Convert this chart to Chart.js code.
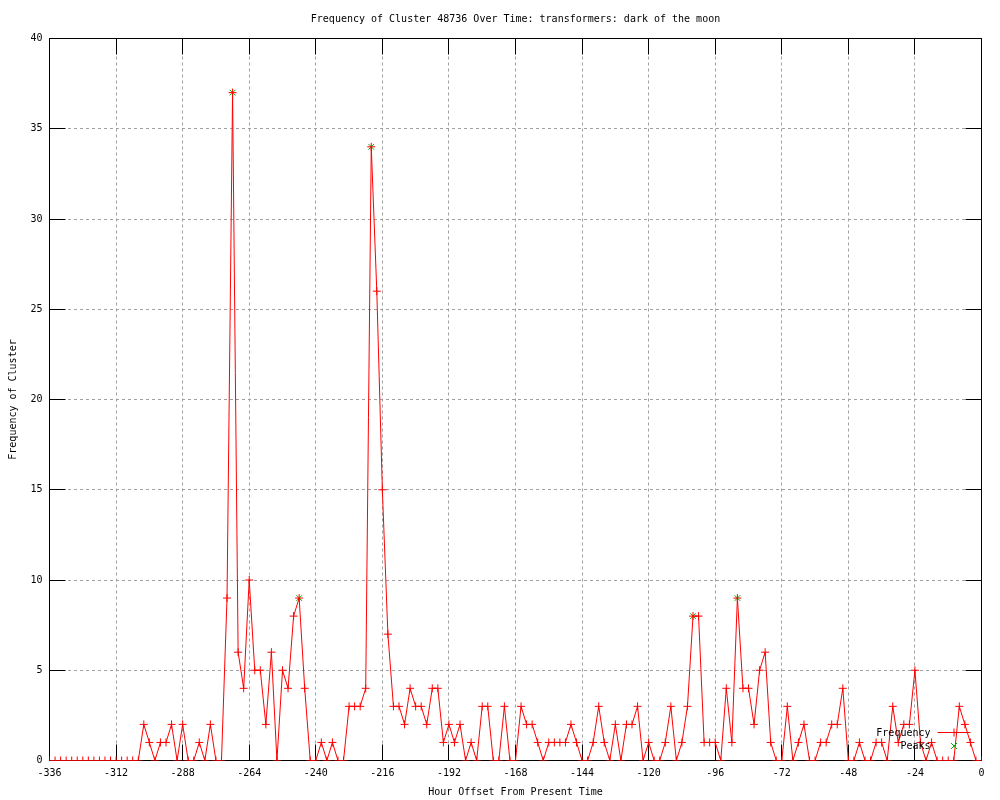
<!DOCTYPE html>
<html>
<head>
<meta charset="utf-8">
<title>Frequency of Cluster 48736 Over Time</title>
<script src="https://cdn.jsdelivr.net/npm/chart.js@4.4.0/dist/chart.umd.min.js"></script>
<style>
  html, body { margin: 0; padding: 0; background: #fff; }
</style>
</head>
<body>
<canvas id="cluster-frequency-chart" width="1000" height="800"></canvas>
<script>
// hour offsets, one point every 2 hours
const hours = [
  -336, -334, -332, -330, -328, -326, -324, -322, -320, -318, -316, -314,
  -312, -310, -308, -306, -304, -302, -300, -298, -296, -294, -292, -290,
  -288, -286, -284, -282, -280, -278, -276, -274, -272, -270, -268, -266,
  -264, -262, -260, -258, -256, -254, -252, -250, -248, -246, -244, -242,
  -240, -238, -236, -234, -232, -230, -228, -226, -224, -222, -220, -218,
  -216, -214, -212, -210, -208, -206, -204, -202, -200, -198, -196, -194,
  -192, -190, -188, -186, -184, -182, -180, -178, -176, -174, -172, -170,
  -168, -166, -164, -162, -160, -158, -156, -154, -152, -150, -148, -146,
  -144, -142, -140, -138, -136, -134, -132, -130, -128, -126, -124, -122,
  -120, -118, -116, -114, -112, -110, -108, -106, -104, -102, -100, -98,
  -96, -94, -92, -90, -88, -86, -84, -82, -80, -78, -76, -74,
  -72, -70, -68, -66, -64, -62, -60, -58, -56, -54, -52, -50,
  -48, -46, -44, -42, -40, -38, -36, -34, -32, -30, -28, -26,
  -24, -22, -20, -18, -16, -14, -12, -10, -8, -6, -4, -2,
  0
];
const frequency = [
  0, 0, 0, 0, 0, 0, 0, 0, 0, 0, 0, 0,
  0, 0, 0, 0, 0, 2, 1, 0, 1, 1, 2, 0,
  2, 0, 0, 1, 0, 2, 0, 0, 9, 37, 6, 4,
  10, 5, 5, 2, 6, 0, 5, 4, 8, 9, 4, 0,
  0, 1, 0, 1, 0, 0, 3, 3, 3, 4, 34, 26,
  15, 7, 3, 3, 2, 4, 3, 3, 2, 4, 4, 1,
  2, 1, 2, 0, 1, 0, 3, 3, 0, 0, 3, 0,
  0, 3, 2, 2, 1, 0, 1, 1, 1, 1, 2, 1,
  0, 0, 1, 3, 1, 0, 2, 0, 2, 2, 3, 0,
  1, 0, 0, 1, 3, 0, 1, 3, 8, 8, 1, 1,
  1, 0, 4, 1, 9, 4, 4, 2, 5, 6, 1, 0,
  0, 3, 0, 1, 2, 0, 0, 1, 1, 2, 2, 4,
  0, 0, 1, 0, 0, 1, 1, 0, 3, 1, 2, 2,
  5, 1, 0, 1, 0, 0, 0, 0, 3, 2, 1, 0,
  0
];
const peakHours = [-270, -246, -220, -104, -88];
const peakValues = [37, 9, 34, 8, 9];

const xTicks = [-336, -312, -288, -264, -240, -216, -192, -168, -144, -120, -96, -72, -48, -24, 0];
const yTicks = [0, 5, 10, 15, 20, 25, 30, 35, 40];

const FONT = { family: '"DejaVu Sans Mono", monospace', size: 10, weight: 'normal' };
const TICK_LEN = 16;

// gnuplot style: black frame, inward mirrored ticks, key in the lower right
const gnuplotFrame = {
  id: 'gnuplotFrame',
  beforeDatasetsDraw(chart) {
    const { ctx, chartArea: a, scales: { x, y } } = chart;
    ctx.save();
    ctx.strokeStyle = '#000';
    ctx.lineWidth = 1;
    ctx.beginPath();
    x.ticks.forEach(t => {
      const px = Math.floor(x.getPixelForValue(t.value)) + 0.5;
      ctx.moveTo(px, a.bottom); ctx.lineTo(px, a.bottom - TICK_LEN);
      ctx.moveTo(px, a.top); ctx.lineTo(px, a.top + TICK_LEN);
    });
    y.ticks.forEach(t => {
      const py = Math.floor(y.getPixelForValue(t.value)) + 0.5;
      ctx.moveTo(a.left, py); ctx.lineTo(a.left + TICK_LEN, py);
      ctx.moveTo(a.right, py); ctx.lineTo(a.right - TICK_LEN, py);
    });
    ctx.stroke();
    ctx.strokeRect(a.left, a.top, a.right - a.left, a.bottom - a.top);
    ctx.restore();
  },
  afterDatasetsDraw(chart) {
    const { ctx, chartArea: a } = chart;
    const ds = chart.data.datasets;
    const textX = a.right - 51;
    const sampleX1 = a.right - 44, sampleX2 = a.right - 11;
    const midX = (sampleX1 + sampleX2) / 2;
    ctx.save();
    ctx.font = '10px "DejaVu Sans Mono", monospace';
    ctx.textAlign = 'right';
    ctx.textBaseline = 'middle';
    ctx.fillStyle = '#000';
    ctx.fillText(ds[0].label, textX, a.bottom - 27);
    ctx.fillText(ds[1].label, textX, a.bottom - 14);
    ctx.lineWidth = 1;
    // Frequency sample
    let yy = a.bottom - 28;
    ctx.strokeStyle = ds[0].borderColor;
    ctx.beginPath();
    ctx.moveTo(sampleX1, yy); ctx.lineTo(sampleX2, yy);
    ctx.moveTo(midX, yy - 4); ctx.lineTo(midX, yy + 4);
    ctx.stroke();
    // Peaks sample
    yy = a.bottom - 14.5;
    ctx.strokeStyle = ds[1].borderColor;
    ctx.beginPath();
    ctx.moveTo(midX - 3, yy - 3); ctx.lineTo(midX + 3, yy + 3);
    ctx.moveTo(midX - 3, yy + 3); ctx.lineTo(midX + 3, yy - 3);
    ctx.stroke();
    ctx.restore();
  }
};

const config = {
  type: 'line',
  data: {
    datasets: [{
      label: 'Frequency',
      data: hours.map((h, i) => ({ x: h, y: frequency[i] })),
      borderColor: '#ff0000',
      borderWidth: 1,
      pointStyle: 'cross',
      pointRadius: 4,
      pointBorderColor: '#ff0000',
      pointBorderWidth: 1,
      tension: 0,
      fill: false
    }, {
      label: 'Peaks',
      data: peakHours.map((h, i) => ({ x: h, y: peakValues[i] })),
      showLine: false,
      borderColor: '#00b000',
      pointStyle: 'crossRot',
      pointRadius: 4,
      pointBorderColor: '#00b000',
      pointBorderWidth: 1
    }]
  },
  options: {
    responsive: false,
    animation: false,
    devicePixelRatio: 1,
    events: [],
    layout: { padding: { left: 0, right: 18.5, top: 0, bottom: 0 } },
    plugins: {
      legend: { display: false },
      tooltip: { enabled: false },
      title: {
        display: true,
        text: 'Frequency of Cluster 48736 Over Time: transformers: dark of the moon',
        fullSize: false,
        color: '#000',
        font: FONT,
        padding: { top: 13, bottom: 13.5 }
      }
    },
    scales: {
      x: {
        type: 'linear',
        min: -336,
        max: 0,
        afterBuildTicks: s => { s.ticks = xTicks.map(v => ({ value: v })); },
        afterFit: s => { s.height = 39.5; },
        ticks: { color: '#000', font: FONT, padding: 7, maxRotation: 0, autoSkip: false },
        grid: { color: '#a0a0a0', lineWidth: 1, drawTicks: false },
        border: { display: false, dash: [3, 3] },
        title: {
          display: true,
          text: 'Hour Offset From Present Time',
          color: '#000',
          font: FONT,
          padding: { top: 0, bottom: 1.5 }
        }
      },
      y: {
        type: 'linear',
        min: 0,
        max: 40,
        afterBuildTicks: s => { s.ticks = yTicks.map(v => ({ value: v })); },
        afterFit: s => { s.width = 49.5; },
        ticks: { color: '#000', font: FONT, padding: 7 },
        grid: { color: '#a0a0a0', lineWidth: 1, drawTicks: false },
        border: { display: false, dash: [3, 3] },
        title: {
          display: true,
          text: 'Frequency of Cluster',
          color: '#000',
          font: FONT,
          padding: { top: 7, bottom: 0 }
        }
      }
    }
  },
  plugins: [gnuplotFrame]
};

const clusterChart = new Chart(document.getElementById('cluster-frequency-chart'), config);
</script>
</body>
</html>
